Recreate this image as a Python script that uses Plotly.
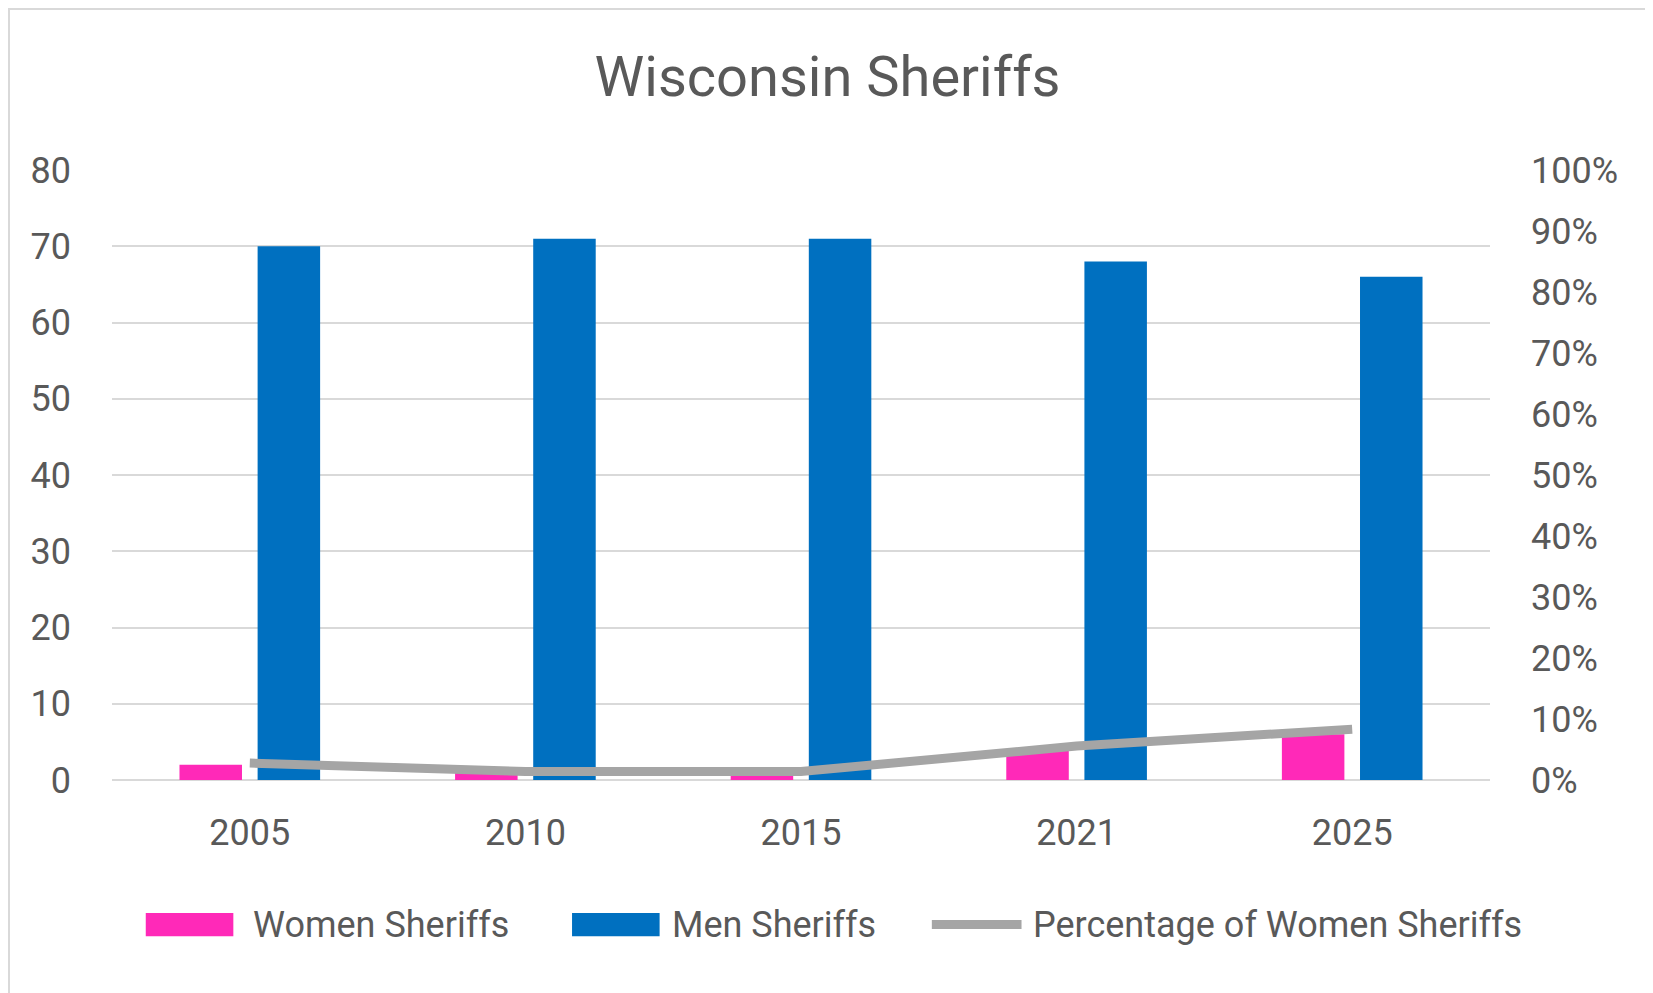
import plotly.graph_objects as go

years = ["2005", "2010", "2015", "2021", "2025"]
women = [2, 1, 1, 4, 6]
men = [70, 71, 71, 68, 66]
pct_women = [w / (w + m) for w, m in zip(women, men)]
series_names = ["Women Sheriffs", "Men Sheriffs", "Percentage of Women Sheriffs"]

W, H = 1653, 993
ML, MR, MT, MB = 104, 171, 162, 221
TXT = "#595959"
FONT = "Roboto"
PINK, BLUE, GRAY = "#FF29B8", "#0070C0", "#A5A5A5"

fig = go.Figure()
fig.add_trace(go.Bar(x=years, y=women, name=series_names[0],
                     marker=dict(color=PINK, line=dict(width=0))))
fig.add_trace(go.Bar(x=years, y=men, name=series_names[1],
                     marker=dict(color=BLUE, line=dict(width=0))))
fig.add_trace(go.Scatter(x=years, y=pct_women, name=series_names[2],
                         yaxis="y2", mode="lines",
                         line=dict(color=GRAY, width=9)))

pw = W - ML - MR
ph = H - MT - MB
fig.add_shape(type="rect", xref="paper", yref="paper",
              x0=(-ML + 1) / pw, x1=(pw + MR - 1) / pw,
              y0=(-MB + 1) / ph, y1=(ph + MT - 1) / ph,
              line=dict(color="#D9D9D9", width=2), layer="below")

# Excel-style legend keys (layout only), placed relative to the plot area
PX0, PX1, PY0, PY1 = 106, 1412, 162, 740   # plot area as seen in the picture


def px(v):
    return (v - PX0) / (PX1 - PX0)


def py(v):
    return (PY1 - v) / (PY1 - PY0)


LEG_Y = 877
keys = [
    dict(kind="rect", color=PINK, x0=138, x1=221, tx=238),
    dict(kind="rect", color=BLUE, x0=542, x1=625, tx=635),
    dict(kind="line", color=GRAY, x0=883, x1=968, tx=977),
]
for k, name in zip(keys, series_names):
    if k["kind"] == "rect":
        fig.add_shape(type="rect", xref="paper", yref="paper",
                      x0=px(k["x0"]), x1=px(k["x1"]),
                      y0=py(LEG_Y + 11), y1=py(LEG_Y - 11),
                      fillcolor=k["color"], line=dict(width=0))
    else:
        fig.add_shape(type="line", xref="paper", yref="paper",
                      x0=px(k["x0"]), x1=px(k["x1"]), y0=py(LEG_Y), y1=py(LEG_Y),
                      line=dict(color=k["color"], width=9))
    fig.add_annotation(text=name, xref="paper", yref="paper",
                       x=px(k["tx"]), y=py(LEG_Y), xanchor="left", yanchor="middle",
                       showarrow=False, font=dict(size=36, color=TXT, family=FONT))

fig.update_layout(
    width=W, height=H,
    margin=dict(l=ML, r=MR, t=MT, b=MB, pad=0),
    paper_bgcolor="white", plot_bgcolor="white",
    font=dict(family=FONT, color=TXT, size=36),
    title=dict(text="Wisconsin Sheriffs", x=0.4958, xref="container",
               y=1 - 68 / H, yref="container", yanchor="middle", xanchor="center",
               font=dict(size=56, color=TXT, family=FONT)),
    barmode="group", bargap=0.433, bargroupgap=0.2,
    xaxis=dict(type="category", showgrid=False, showline=False, zeroline=False,
               ticks="", tickfont=dict(size=36, color=TXT), ticklabelstandoff=28),
    yaxis=dict(range=[0, 80], dtick=10, showgrid=True, gridcolor="#D9D9D9", gridwidth=2,
               zeroline=True, zerolinecolor="#D9D9D9", zerolinewidth=2,
               showline=False, ticks="", tickfont=dict(size=36, color=TXT),
               ticklabelstandoff=40),
    yaxis2=dict(range=[0, 1], dtick=0.1, tickformat=".0%", overlaying="y", side="right",
                showgrid=False, zeroline=False, showline=False, ticks="",
                tickfont=dict(size=36, color=TXT), ticklabelstandoff=40),
    showlegend=False,
)

fig.write_html("out.html")
